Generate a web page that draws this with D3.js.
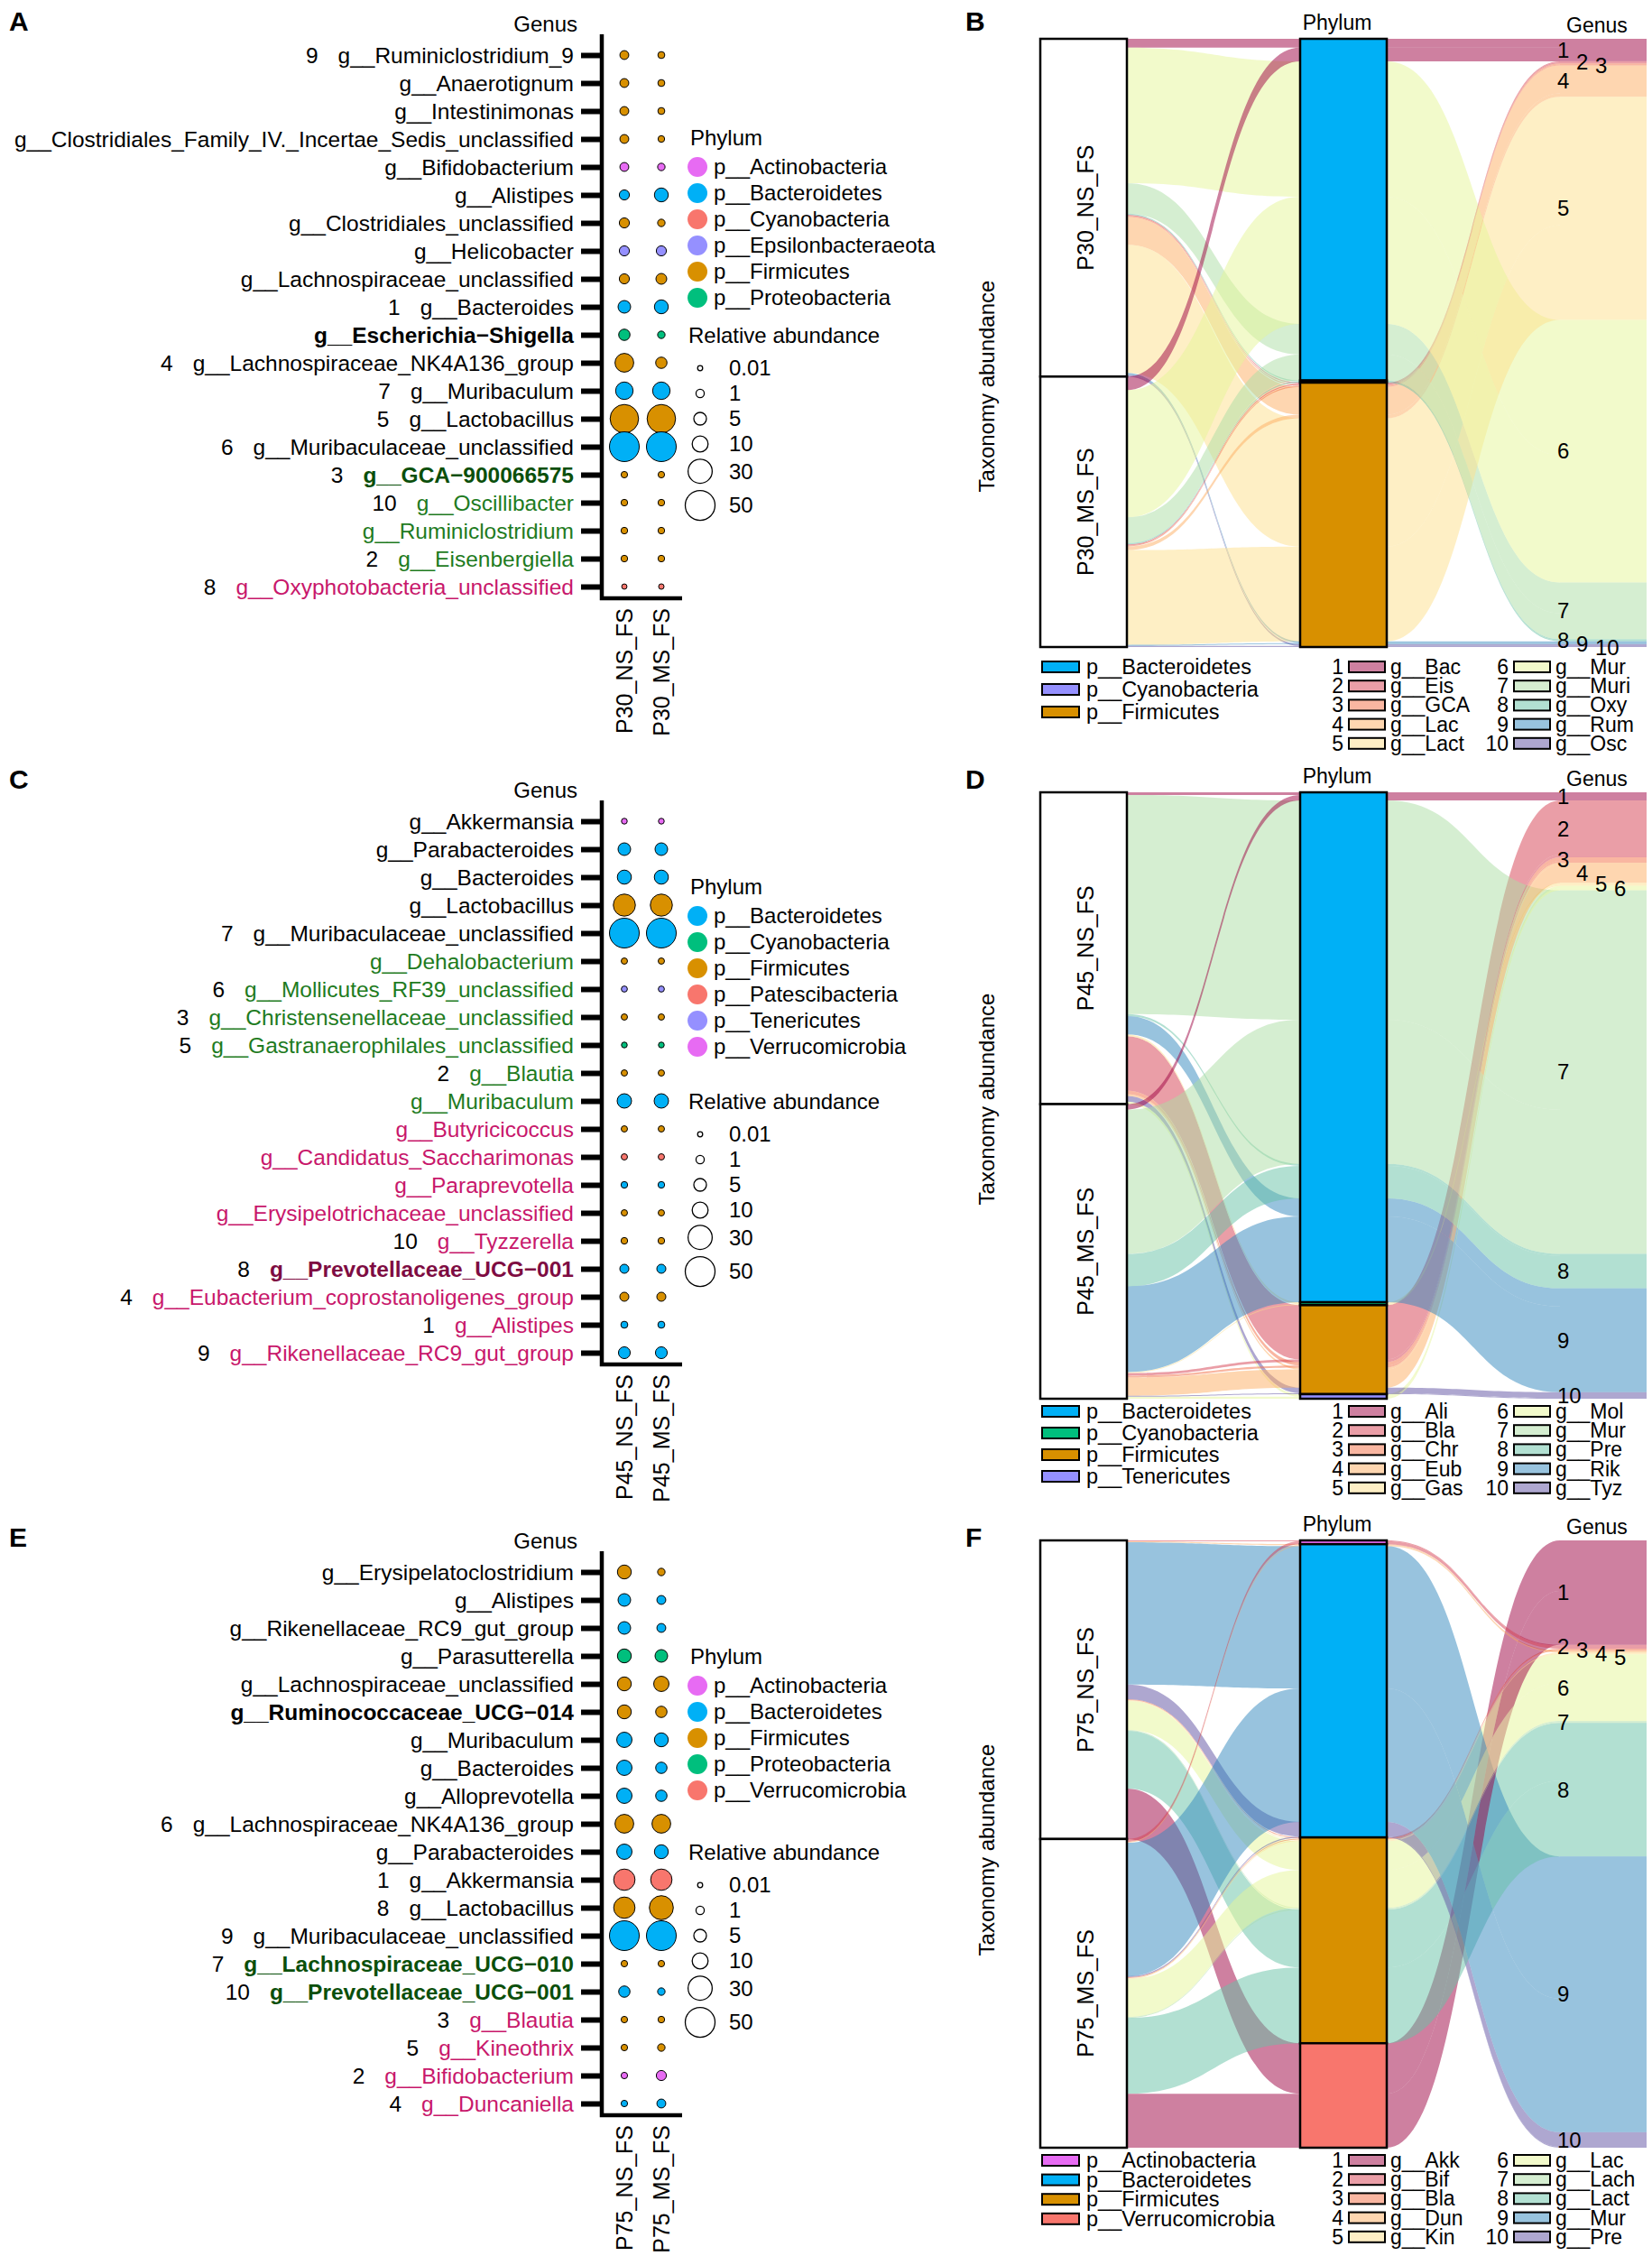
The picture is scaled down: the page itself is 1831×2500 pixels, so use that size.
<!DOCTYPE html>
<html>
<head>
<meta charset="utf-8">
<script src="https://cdn.jsdelivr.net/npm/d3@7/dist/d3.min.js"></script>
<style>
  body { margin: 0; background: #fff; }
  svg text { font-family: "Liberation Sans", Arial, Helvetica, sans-serif; }
</style>
</head>
<body>
<div id="fig"></div>
<script>
// ---------- P30 (A, B) ----------
var samplesA = ['P30_NS_FS', 'P30_MS_FS']
var generaA = ['g__Ruminiclostridium_9', 'g__Anaerotignum', 'g__Intestinimonas',
  'g__Clostridiales_Family_IV._Incertae_Sedis_unclassified', 'g__Bifidobacterium', 'g__Alistipes',
  'g__Clostridiales_unclassified', 'g__Helicobacter', 'g__Lachnospiraceae_unclassified', 'g__Bacteroides',
  'g__Escherichia\u2212Shigella', 'g__Lachnospiraceae_NK4A136_group', 'g__Muribaculum', 'g__Lactobacillus',
  'g__Muribaculaceae_unclassified', 'g__GCA\u2212900066575', 'g__Oscillibacter', 'g__Ruminiclostridium',
  'g__Eisenbergiella', 'g__Oxyphotobacteria_unclassified']
var phylumOfA = ['p__Firmicutes', 'p__Firmicutes', 'p__Firmicutes', 'p__Firmicutes', 'p__Actinobacteria',
  'p__Bacteroidetes', 'p__Firmicutes', 'p__Epsilonbacteraeota', 'p__Firmicutes', 'p__Bacteroidetes',
  'p__Proteobacteria', 'p__Firmicutes', 'p__Bacteroidetes', 'p__Firmicutes', 'p__Bacteroidetes',
  'p__Firmicutes', 'p__Firmicutes', 'p__Firmicutes', 'p__Firmicutes', 'p__Cyanobacteria']
var nsA = [1.4, 1.4, 1.4, 1.4, 1.4, 2.3, 2.3, 2.3, 2.3, 5, 3.5, 15.7, 13, 45, 50, 0.25, 0.3, 0.3, 0.3, 0.03]
var msA = [0.4, 0.4, 0.4, 0.3, 0.6, 6.7, 0.6, 2.3, 3, 6.7, 0.6, 3.5, 13, 45, 50, 0.25, 0.3, 0.3, 0.3, 0.05]
var tagA = ['9', '', '', '', '', '', '', '', '', '1', '', '4', '7', '5', '6', '3', '10', '', '2', '8']
var groupA = [0, 0, 0, 0, 0, 0, 0, 0, 0, 0, 0, 0, 0, 0, 0, 1, 1, 1, 1, 2]
var keyA = [0, 0, 0, 0, 0, 0, 0, 0, 0, 0, 1, 0, 0, 0, 0, 1, 0, 0, 0, 0]
var phylaA = ['p__Actinobacteria', 'p__Bacteroidetes', 'p__Cyanobacteria', 'p__Epsilonbacteraeota',
  'p__Firmicutes', 'p__Proteobacteria']

var phylaB = ['p__Bacteroidetes', 'p__Cyanobacteria', 'p__Firmicutes']
var generaB = ['g__Bac', 'g__Eis', 'g__GCA', 'g__Lac', 'g__Lact', 'g__Mur', 'g__Muri', 'g__Oxy', 'g__Rum', 'g__Osc']
var genusPhylumB = ['p__Bacteroidetes', 'p__Firmicutes', 'p__Firmicutes', 'p__Firmicutes', 'p__Firmicutes',
  'p__Bacteroidetes', 'p__Bacteroidetes', 'p__Cyanobacteria', 'p__Firmicutes', 'p__Firmicutes']
var flowNSB = [2.5, 0.3, 0.3, 7.8, 36.0, 38.0, 8.6, 0.3, 0.5, 0.5]
var flowMSB = [3.8, 0.3, 0.3, 1.0, 26.6, 35.7, 7.3, 0.3, 0.3, 0.3]

// ---------- P45 (C, D) ----------
var samplesC = ['P45_NS_FS', 'P45_MS_FS']
var generaC = ['g__Akkermansia', 'g__Parabacteroides', 'g__Bacteroides', 'g__Lactobacillus',
  'g__Muribaculaceae_unclassified', 'g__Dehalobacterium', 'g__Mollicutes_RF39_unclassified',
  'g__Christensenellaceae_unclassified', 'g__Gastranaerophilales_unclassified', 'g__Blautia', 'g__Muribaculum',
  'g__Butyricicoccus', 'g__Candidatus_Saccharimonas', 'g__Paraprevotella', 'g__Erysipelotrichaceae_unclassified',
  'g__Tyzzerella', 'g__Prevotellaceae_UCG\u2212001', 'g__Eubacterium_coprostanoligenes_group', 'g__Alistipes',
  'g__Rikenellaceae_RC9_gut_group']
var phylumOfC = ['p__Verrucomicrobia', 'p__Bacteroidetes', 'p__Bacteroidetes', 'p__Firmicutes', 'p__Bacteroidetes',
  'p__Firmicutes', 'p__Tenericutes', 'p__Firmicutes', 'p__Cyanobacteria', 'p__Firmicutes', 'p__Bacteroidetes',
  'p__Firmicutes', 'p__Patescibacteria', 'p__Bacteroidetes', 'p__Firmicutes', 'p__Firmicutes', 'p__Bacteroidetes',
  'p__Firmicutes', 'p__Bacteroidetes', 'p__Bacteroidetes']
var nsC = [0.1, 5, 7, 24, 50, 0.2, 0.15, 0.2, 0.1, 0.2, 7.5, 0.2, 0.2, 0.3, 0.2, 0.3, 1.5, 1.5, 0.4, 4]
var msC = [0.1, 5, 7, 24, 50, 0.2, 0.15, 0.2, 0.1, 0.2, 7.5, 0.2, 0.2, 0.3, 0.2, 0.3, 1.5, 1.5, 0.4, 4]
var tagC = ['', '', '', '', '7', '', '6', '3', '5', '2', '', '', '', '', '', '10', '8', '4', '1', '9']
var groupC = [0, 0, 0, 0, 0, 1, 1, 1, 1, 1, 1, 2, 2, 2, 2, 2, 2, 2, 2, 2]
var keyC = [0, 0, 0, 0, 0, 0, 0, 0, 0, 0, 0, 0, 0, 0, 0, 0, 1, 0, 0, 0]
var phylaC = ['p__Bacteroidetes', 'p__Cyanobacteria', 'p__Firmicutes', 'p__Patescibacteria', 'p__Tenericutes',
  'p__Verrucomicrobia']

var phylaD = ['p__Bacteroidetes', 'p__Cyanobacteria', 'p__Firmicutes', 'p__Tenericutes']
var generaD = ['g__Ali', 'g__Bla', 'g__Chr', 'g__Eub', 'g__Gas', 'g__Mol', 'g__Mur', 'g__Pre', 'g__Rik', 'g__Tyz']
var genusPhylumD = ['p__Bacteroidetes', 'p__Firmicutes', 'p__Firmicutes', 'p__Firmicutes', 'p__Cyanobacteria',
  'p__Tenericutes', 'p__Bacteroidetes', 'p__Bacteroidetes', 'p__Bacteroidetes', 'p__Firmicutes']
var flowNSD = [0.8, 16.7, 1.1, 0.6, 0.6, 0.8, 67.5, 0.6, 5.6, 1.7]
var flowMSD = [1.7, 0.8, 0.6, 5.6, 0.3, 0.6, 44.4, 10.0, 26.4, 0.3]

// ---------- P75 (E, F) ----------
var samplesE = ['P75_NS_FS', 'P75_MS_FS']
var generaE = ['g__Erysipelatoclostridium', 'g__Alistipes', 'g__Rikenellaceae_RC9_gut_group', 'g__Parasutterella',
  'g__Lachnospiraceae_unclassified', 'g__Ruminococcaceae_UCG\u2212014', 'g__Muribaculum', 'g__Bacteroides',
  'g__Alloprevotella', 'g__Lachnospiraceae_NK4A136_group', 'g__Parabacteroides', 'g__Akkermansia',
  'g__Lactobacillus', 'g__Muribaculaceae_unclassified', 'g__Lachnospiraceae_UCG\u2212010',
  'g__Prevotellaceae_UCG\u2212001', 'g__Blautia', 'g__Kineothrix', 'g__Bifidobacterium', 'g__Duncaniella']
var phylumOfE = ['p__Firmicutes', 'p__Bacteroidetes', 'p__Bacteroidetes', 'p__Proteobacteria', 'p__Firmicutes',
  'p__Firmicutes', 'p__Bacteroidetes', 'p__Bacteroidetes', 'p__Bacteroidetes', 'p__Firmicutes', 'p__Bacteroidetes',
  'p__Verrucomicrobia', 'p__Firmicutes', 'p__Bacteroidetes', 'p__Firmicutes', 'p__Bacteroidetes', 'p__Firmicutes',
  'p__Firmicutes', 'p__Actinobacteria', 'p__Bacteroidetes']
var nsE = [6.7, 5, 5, 6.7, 6.7, 6.7, 8.9, 8.9, 8.9, 15.7, 8.9, 22, 22, 50, 0.25, 3.5, 0.25, 0.25, 0.25, 0.25]
var msE = [0.6, 1.4, 1.4, 5, 8.9, 3.5, 6.7, 3.5, 3.5, 15.7, 6.7, 22, 29.6, 50, 0.25, 0.6, 0.3, 0.6, 2.3, 1.4]
var tagE = ['', '', '', '', '', '', '', '', '', '6', '', '1', '8', '9', '7', '10', '3', '5', '2', '4']
var groupE = [0, 0, 0, 0, 0, 0, 0, 0, 0, 0, 0, 0, 0, 0, 1, 1, 2, 2, 2, 2]
var keyE = [0, 0, 0, 0, 0, 1, 0, 0, 0, 0, 0, 0, 0, 0, 1, 1, 0, 0, 0, 0]
var phylaE = ['p__Actinobacteria', 'p__Bacteroidetes', 'p__Firmicutes', 'p__Proteobacteria', 'p__Verrucomicrobia']

var phylaF = ['p__Actinobacteria', 'p__Bacteroidetes', 'p__Firmicutes', 'p__Verrucomicrobia']
var generaF = ['g__Akk', 'g__Bif', 'g__Bla', 'g__Dun', 'g__Kin', 'g__Lac', 'g__Lach', 'g__Lact', 'g__Mur', 'g__Pre']
var genusPhylumF = ['p__Verrucomicrobia', 'p__Actinobacteria', 'p__Firmicutes', 'p__Bacteroidetes',
  'p__Firmicutes', 'p__Firmicutes', 'p__Firmicutes', 'p__Firmicutes', 'p__Bacteroidetes', 'p__Bacteroidetes']
var flowNSF = [16.0, 0.3, 0.3, 0.3, 0.3, 9.1, 0.3, 18.3, 45.1, 4.6]
var flowMSF = [17.1, 0.9, 0.3, 0.3, 0.3, 12.0, 0.3, 24.0, 42.3, 0.3]

var sizeBreaks = [0.01, 1, 5, 10, 30, 50]

// colours
var phylumColor = {
  A: ['#E76BF3', '#00B0F6', '#F8766D', '#9590FF', '#D89000', '#00BF7D'],
  B: ['#00B0F6', '#9590FF', '#D89000'],
  C: ['#00B0F6', '#00BF7D', '#D89000', '#F8766D', '#9590FF', '#E76BF3'],
  D: ['#00B0F6', '#00BF7D', '#D89000', '#9590FF'],
  E: ['#E76BF3', '#00B0F6', '#D89000', '#00BF7D', '#F8766D'],
  F: ['#E76BF3', '#00B0F6', '#D89000', '#F8766D'],
}
var labelColor = [['#000', '#000'], ['#1e7b1e', '#0b4f0b'], ['#c8176b', '#7e0c42']]
var spectral = d3.schemeSpectral[10]

var svg = d3.select('#fig').append('svg').attr('width', 1831).attr('height', 2500)
var ROW = 31

function txt(g, x, y, s, size) {
  return g.append('text').attr('x', x).attr('y', y).attr('dy', '0.35em')
    .attr('font-size', size || 24).text(s)
}

function dotPanel(p) {
  var g = svg.append('g')
  var n = p.genera.length
  var y = d3.scalePoint().domain(d3.range(n)).range([p.y0, p.y0 + ROW * (n - 1)])
  var x = d3.scalePoint().domain(p.samples).range([692, 733])
  var col = d3.scaleOrdinal().domain(p.phyla).range(p.colors)
  var r = d3.scaleSqrt().domain([0.01, 50]).range([2.8, 16.5]).clamp(true)
  var top = p.y0 - 23, bottom = y(n - 1) + 13

  txt(g, 640, p.y0 - 34, 'Genus').attr('text-anchor', 'end')

  var ax = g.append('g').attr('transform', 'translate(667,0)')
    .call(d3.axisLeft(y).tickSize(23).tickFormat(''))
  ax.select('.domain').remove()
  ax.selectAll('.tick line').attr('stroke', '#000').attr('stroke-width', 6)
  g.append('path').attr('d', 'M667,' + top + 'V' + bottom + 'H756')
    .attr('fill', 'none').attr('stroke', '#000').attr('stroke-width', 4.5)

  g.selectAll('.rowlab').data(p.genera).join('text')
    .attr('x', 636).attr('y', (d, i) => y(i)).attr('dy', '0.35em')
    .attr('text-anchor', 'end').attr('font-size', 24.5)
    .each(function (d, i) {
      var t = d3.select(this)
      if (p.tags[i]) t.append('tspan').attr('fill', '#000').text(p.tags[i])
      t.append('tspan').attr('dx', p.tags[i] ? 22 : 0)
        .attr('fill', labelColor[p.group[i]][p.key[i]])
        .attr('font-weight', p.key[i] ? 'bold' : null).text(d)
    })

  p.values.forEach(function (vals, si) {
    g.selectAll(null).data(vals).join('circle')
      .attr('cx', x(p.samples[si])).attr('cy', (d, i) => y(i)).attr('r', d => r(d))
      .attr('fill', (d, i) => col(p.phylumOf[i])).attr('stroke', '#000').attr('stroke-width', 1)
  })

  p.samples.forEach(function (s) {
    g.append('text').attr('transform', 'translate(' + x(s) + ',' + (bottom + 11) + ') rotate(-90)')
      .attr('dy', '0.35em').attr('text-anchor', 'end').attr('font-size', 25).text(s)
  })

  // phylum legend
  var ly = p.y0 + p.legendOffset
  txt(g, 765, ly, 'Phylum')
  p.phyla.forEach(function (ph, i) {
    var yy = ly + 32 + 29 * i
    g.append('circle').attr('cx', 773).attr('cy', yy).attr('r', 11).attr('fill', col(ph))
    txt(g, 791, yy, ph)
  })
  // size legend
  var sy = p.y0 + 311
  txt(g, 763, sy, 'Relative abundance')
  var yy = sy + 36
  sizeBreaks.forEach(function (v, i) {
    if (i > 0) yy += Math.max(28, r(sizeBreaks[i - 1]) + r(v) + 8)
    g.append('circle').attr('cx', 776).attr('cy', yy).attr('r', r(v))
      .attr('fill', 'none').attr('stroke', '#000').attr('stroke-width', 1.3)
    txt(g, 808, yy, String(v))
  })
}

function stackBy(lodes, cmp, key) {
  var c = 0
  lodes.slice().sort(cmp).forEach(function (d) { d[key] = c; c += d.v })
}

function alluvialPanel(p) {
  var g = svg.append('g')
  var lodes = []
  p.values.forEach(function (row, s) {
    row.forEach(function (v, gi) {
      if (v > 0) lodes.push({ s: s, g: gi, p: p.phyla.indexOf(p.genusPhylum[gi]), v: v })
    })
  })
  var total = d3.sum(lodes, d => d.v)
  var y = d3.scaleLinear().domain([0, total]).range([p.top, p.bottom])
  var x = d3.scalePoint().domain(['Sample', 'Phylum', 'Genus']).range([1201, 1777])
  var w = 96
  var col = d3.scaleOrdinal().domain(p.phyla).range(p.colors)

  // lode order: samples by phylum then genus, phyla by genus then sample, genera by sample
  stackBy(lodes, (a, b) => a.s - b.s || a.p - b.p || a.g - b.g, 'y1')
  stackBy(lodes, (a, b) => a.p - b.p || a.g - b.g || a.s - b.s, 'y2')
  stackBy(lodes, (a, b) => a.g - b.g || a.s - b.s, 'y3')

  function ribbon(x0, a0, x1, a1, v) {
    var t0 = y(a0), b0 = y(a0 + v), t1 = y(a1), b1 = y(a1 + v), xm = (x0 + x1) / 2
    return 'M' + x0 + ',' + t0 + 'C' + xm + ',' + t0 + ' ' + xm + ',' + t1 + ' ' + x1 + ',' + t1 +
      'L' + x1 + ',' + b1 + 'C' + xm + ',' + b1 + ' ' + xm + ',' + b0 + ' ' + x0 + ',' + b0 + 'Z'
  }

  var xs = x('Sample'), xp = x('Phylum'), xg = x('Genus')
  g.selectAll('.f1').data(lodes).join('path')
    .attr('d', d => ribbon(xs + w / 2, d.y1, xp - w / 2, d.y2, d.v))
    .attr('fill', d => spectral[d.g]).attr('fill-opacity', 0.5)
  g.selectAll('.f2').data(lodes).join('path')
    .attr('d', d => ribbon(xp + w / 2, d.y2, xg - w / 2, d.y3, d.v))
    .attr('fill', d => spectral[d.g]).attr('fill-opacity', 0.5)

  function strata(key, field) {
    return d3.rollups(lodes, v => [d3.min(v, d => d[field]), d3.max(v, d => d[field] + d.v)], d => d[key])
      .sort((a, b) => a[0] - b[0])
  }
  // genus strata (no border)
  var gs = strata('g', 'y3')
  g.selectAll('.gs').data(gs).join('rect')
    .attr('x', xg - w / 2).attr('width', w)
    .attr('y', d => y(d[1][0])).attr('height', d => y(d[1][1]) - y(d[1][0]))
    .attr('fill', d => spectral[d[0]]).attr('fill-opacity', 0.5)
  // phylum strata
  g.selectAll('.ps').data(strata('p', 'y2')).join('rect')
    .attr('x', xp - w / 2).attr('width', w)
    .attr('y', d => y(d[1][0])).attr('height', d => y(d[1][1]) - y(d[1][0]))
    .attr('fill', d => col(p.phyla[d[0]])).attr('stroke', '#000').attr('stroke-width', 2.5)
  // sample strata
  var ss = strata('s', 'y1')
  g.selectAll('.ss').data(ss).join('rect')
    .attr('x', xs - w / 2).attr('width', w)
    .attr('y', d => y(d[1][0])).attr('height', d => y(d[1][1]) - y(d[1][0]))
    .attr('fill', '#fff').attr('stroke', '#000').attr('stroke-width', 2.5)
  ss.forEach(function (d) {
    var cy = (y(d[1][0]) + y(d[1][1])) / 2
    g.append('text').attr('transform', 'translate(' + (xs + 2) + ',' + cy + ') rotate(-90)')
      .attr('dy', '0.35em').attr('text-anchor', 'middle').attr('font-size', 25).text(p.samples[d[0]])
  })

  // genus numbers, nudged apart where strata are thin
  var prev = null
  gs.forEach(function (d) {
    var c = (y(d[1][0]) + y(d[1][1])) / 2, ly = c, shift = 0
    if (prev && c - prev.y < 16) { shift = prev.shift + 1; ly = Math.max(c, prev.y + 4) }
    txt(g, xg - w / 2 - 3 + shift * 21, ly, String(d[0] + 1))
    prev = { y: ly, shift: shift }
  })

  txt(g, 1482, p.top - 18, 'Phylum', 23).attr('text-anchor', 'middle')
  txt(g, 1770, p.top - 15, 'Genus', 23).attr('text-anchor', 'middle')
  g.append('text').attr('transform', 'translate(1094,' + p.titleY + ') rotate(-90)')
    .attr('dy', '0.35em').attr('text-anchor', 'middle').attr('font-size', 24).text('Taxonomy abundance')

  // legends
  p.phyla.forEach(function (ph, i) {
    var yy = p.legendY + p.phyStep * i
    g.append('rect').attr('x', 1155).attr('y', yy - 6).attr('width', 41).attr('height', 12)
      .attr('fill', col(ph)).attr('stroke', '#000').attr('stroke-width', 2)
    txt(g, 1204, yy, ph, 23.5)
  })
  p.genera.forEach(function (gn, i) {
    var bx = i < 5 ? 1495 : 1678, yy = p.legendY + 21.2 * (i % 5)
    txt(g, bx - 6, yy, String(i + 1), 23).attr('text-anchor', 'end')
    g.append('rect').attr('x', bx).attr('y', yy - 6).attr('width', 40).attr('height', 12)
      .attr('fill', spectral[i]).attr('fill-opacity', 0.5).attr('stroke', '#000').attr('stroke-width', 2)
    txt(g, bx + 46, yy, gn, 23)
  })
}

dotPanel({ y0: 61, legendOffset: 92, samples: samplesA, genera: generaA, phylumOf: phylumOfA,
  values: [nsA, msA], tags: tagA, group: groupA, key: keyA, phyla: phylaA, colors: phylumColor.A })
dotPanel({ y0: 910, legendOffset: 73, samples: samplesC, genera: generaC, phylumOf: phylumOfC,
  values: [nsC, msC], tags: tagC, group: groupC, key: keyC, phyla: phylaC, colors: phylumColor.C })
dotPanel({ y0: 1742, legendOffset: 94, samples: samplesE, genera: generaE, phylumOf: phylumOfE,
  values: [nsE, msE], tags: tagE, group: groupE, key: keyE, phyla: phylaE, colors: phylumColor.E })

alluvialPanel({ top: 43, bottom: 717, titleY: 428, legendY: 739, phyStep: 25, samples: samplesA,
  phyla: phylaB, genera: generaB, genusPhylum: genusPhylumB, values: [flowNSB, flowMSB], colors: phylumColor.B })
alluvialPanel({ top: 878, bottom: 1550, titleY: 1218, legendY: 1564, phyStep: 24, samples: samplesC,
  phyla: phylaD, genera: generaD, genusPhylum: genusPhylumD, values: [flowNSD, flowMSD], colors: phylumColor.D })
alluvialPanel({ top: 1707, bottom: 2380, titleY: 2050, legendY: 2394, phyStep: 21.6, samples: samplesE,
  phyla: phylaF, genera: generaF, genusPhylum: genusPhylumF, values: [flowNSF, flowMSF], colors: phylumColor.F })

// panel letters
var letters = [['A', 10, 23], ['B', 1070, 23], ['C', 10, 863], ['D', 1070, 863], ['E', 10, 1703], ['F', 1070, 1703]]
letters.forEach(function (l) {
  txt(svg, l[1], l[2], l[0], 30).attr('font-weight', 'bold')
})
</script>
</body>
</html>
